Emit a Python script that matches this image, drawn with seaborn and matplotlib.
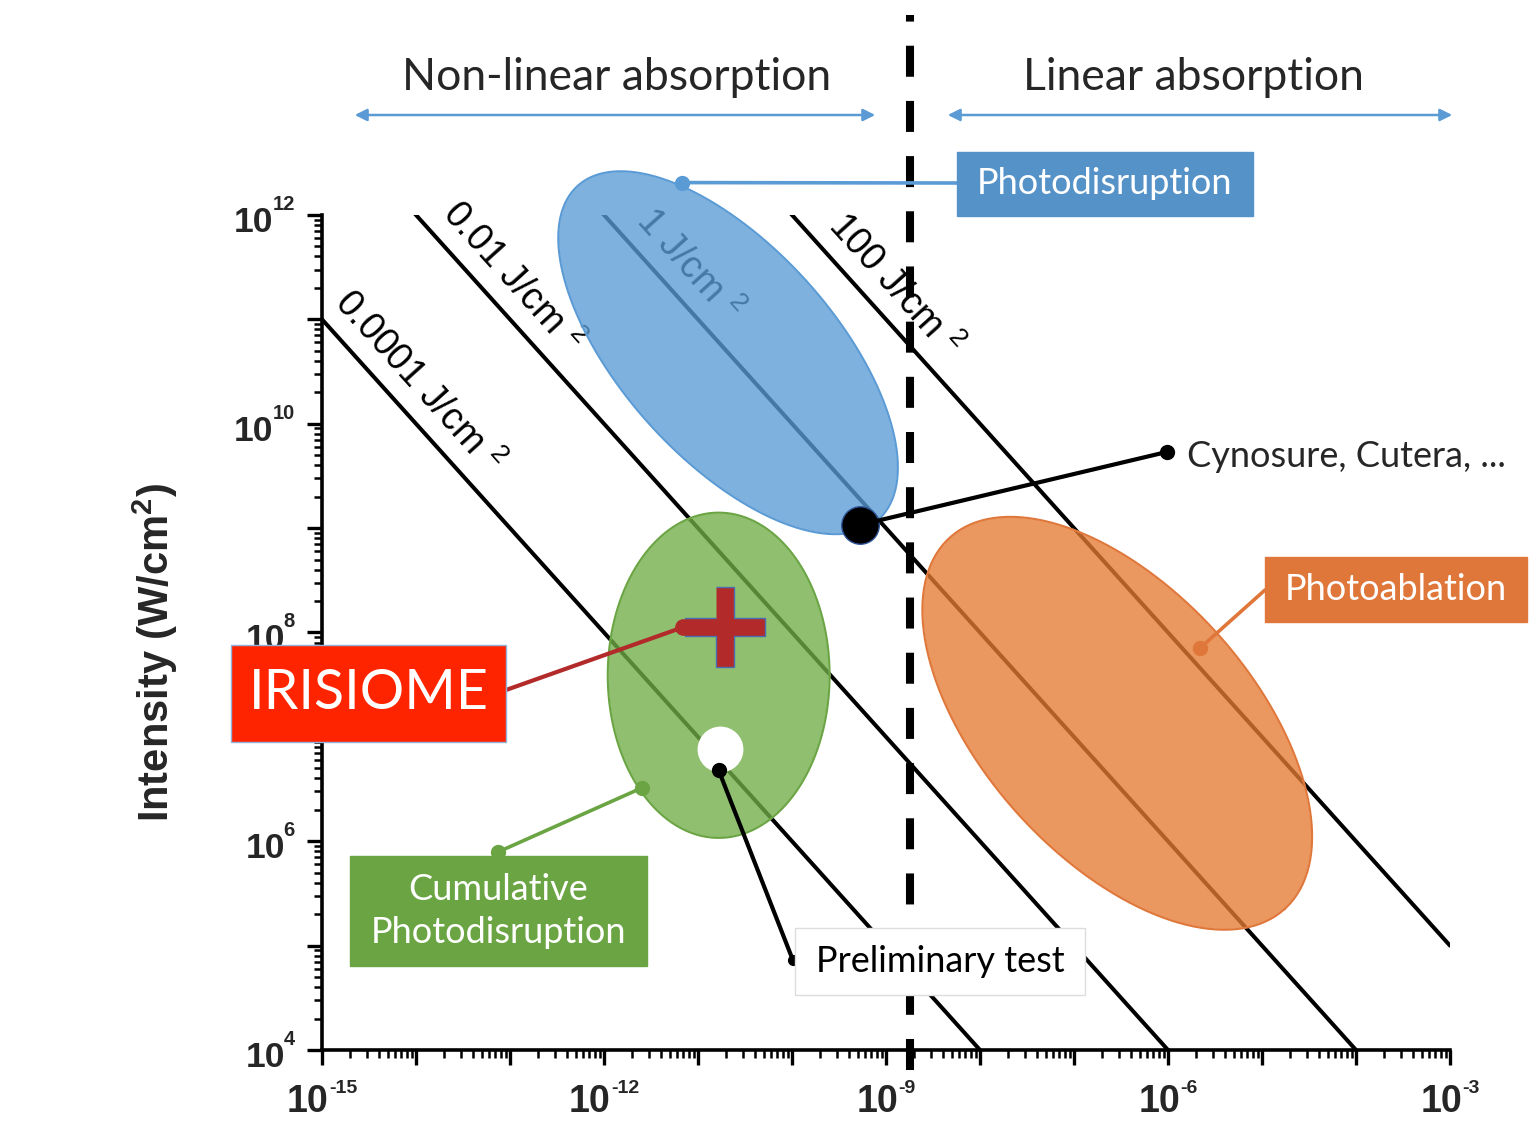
import numpy as np
import pandas as pd
import matplotlib.pyplot as plt
import seaborn as sns
from matplotlib.patches import Rectangle, ConnectionPatch, FancyArrowPatch
from matplotlib.lines import Line2D
from matplotlib.ticker import FixedLocator, LogLocator, NullFormatter

sns.set_theme(style="ticks")
plt.rcParams['font.family'] = ['Liberation Sans', 'DejaVu Sans']
plt.rcParams['mathtext.fontset'] = 'custom'
plt.rcParams['mathtext.rm'] = 'Liberation Sans'
plt.rcParams['mathtext.bf'] = 'Liberation Sans:bold'
plt.rcParams['mathtext.it'] = 'Liberation Sans:italic'
CAL = ['Lato', 'DejaVu Sans']

# fluence iso-lines (J/cm2), I = F / t
fluences = [1e-4, 1e-2, 1, 100]
fluence_labels = ['0.0001 J/cm $^{2}$', '0.01 J/cm $^{2}$', '1 J/cm $^{2}$', '100 J/cm $^{2}$']
label_at = [-14.21, -13.21, -11.33, -9.14]      # log10(t) where each label sits

# axis decades that carry a label
x_decades = [-15, -12, -9, -6, -3]
y_decades = [4, 6, 8, 10, 12]

# interaction regimes, log10 coords: centre, semi axes (decades), tilt (deg)
regimes = ['Photodisruption', 'Cumulative', 'Photoablation']
reg_t = [-10.68, -10.78, -6.54]
reg_i = [10.68, 7.59, 7.13]
reg_a = [2.39, 1.18, 2.66]
reg_b = [1.13, 1.73, 1.43]
reg_tilt = [48, 0, 48]
reg_fill = ['#5B9BD5', '#70AD47', '#E57A33']
reg_edge = ['#5B9BD5', '#6AA443', '#E0773A']

# single points (log10 t, log10 I)
irisiome = (-10.71, 8.05)
prelim = (-10.77, 6.88)
cynosure = (-9.28, 9.03)
t_limit = -8.745          # linear / non-linear boundary

# connector anchor points (log10 t, log10 I)
photodis_dot = (-11.17, 12.31)
ablation_dot = (-5.66, 7.85)
cumul_dot = (-11.60, 6.51)
iris_dot = (-11.16, 8.05)
cyn_end = (-6.01, 9.73)
prelim_start = (-10.78, 6.68)
prelim_end = (-9.99, 4.86)

fig = plt.figure(figsize=(15.31, 11.23), dpi=100)
ax = fig.add_axes([0.2103, 0.0650, 0.7368, 0.7436])
ax.set_xscale('log')
ax.set_yscale('log')
ax.set_xlim(1e-15, 1e-3)
ax.set_ylim(1e4, 1e12)

# pixels per decade ratio (y / x) -> keeps ellipses and text angles right
k = (0.7436 * 11.23 / 8) / (0.7368 * 15.31 / 12)
angle = np.degrees(np.arctan(k))

# fluence lines
t = np.logspace(-15, -3, 400)
df = pd.concat([pd.DataFrame({'t': t, 'I': F / t, 'F': F}) for F in fluences])
sns.lineplot(data=df, x='t', y='I', units='F', estimator=None, color='black',
             lw=2.9, ax=ax, zorder=2)

for F, lab, lt in zip(fluences, fluence_labels, label_at):
    ax.annotate(lab, xy=(10**lt, F / 10**lt), xytext=(15.5, 14),
                textcoords='offset points', rotation=-angle, rotation_mode='anchor',
                ha='center', va='center', fontsize=27, color='black', zorder=2)

# regime ellipses
s = np.linspace(0, 2 * np.pi, 300)
for ct, ci, a, b, tilt, fc, ec in zip(reg_t, reg_i, reg_a, reg_b, reg_tilt, reg_fill, reg_edge):
    th = np.radians(tilt)
    u = a * np.cos(s) * np.cos(th) - b * np.sin(s) * np.sin(th)
    v = a * np.cos(s) * np.sin(th) + b * np.sin(s) * np.cos(th)
    ax.fill(10**(ct + u), 10**(ci - v / k), facecolor=fc, alpha=0.78, zorder=3, clip_on=False)
    ax.plot(10**(ct + u), 10**(ci - v / k), color=ec, lw=1.5, zorder=3, clip_on=False)

# boundary
ax.axvline(10**t_limit, ymin=-0.024, ymax=1.24, color='black', lw=5.8,
           dashes=(3.85, 3.0), clip_on=False, zorder=6)

# axes styling
for side in ['top', 'right']:
    ax.spines[side].set_visible(False)
for side in ['left', 'bottom']:
    ax.spines[side].set_linewidth(2.6)
    ax.spines[side].set_color('black')

ax.xaxis.set_major_locator(FixedLocator(10.0**np.arange(-15, -2)))
ax.yaxis.set_major_locator(FixedLocator(10.0**np.arange(4, 13)))
for axis in [ax.xaxis, ax.yaxis]:
    axis.set_major_formatter(NullFormatter())
    axis.set_minor_locator(LogLocator(base=10, subs=np.arange(2, 10), numticks=100))
    axis.set_minor_formatter(NullFormatter())
ax.tick_params(which='major', direction='out', length=11, width=2.4, colors='black')
ax.tick_params(which='minor', direction='out', length=6, width=1.8, colors='black')
ax.set_xlabel('')
ax.set_ylabel('')
ax.set_facecolor('white')


# tick labels "10" + small raised exponent (sizes in px, converted to points)
def pt(p):
    return p * 72 / 100


for e in x_decades:
    sup = str(e)
    w10 = 1.112 * 27 * 100 / 72
    ws = (0.333 + 0.556 * (len(sup) - 1)) * 14 * 100 / 72
    left = -(w10 + ws) / 2
    ax.annotate('10', xy=(10.0**e, 0), xycoords=('data', 'axes fraction'),
                xytext=(pt(left + w10), pt(-62)), textcoords='offset points',
                ha='right', va='baseline', fontsize=27, fontweight='bold',
                annotation_clip=False)
    ax.annotate(sup, xy=(10.0**e, 0), xycoords=('data', 'axes fraction'),
                xytext=(pt(left + w10), pt(-43)), textcoords='offset points',
                ha='left', va='baseline', fontsize=14, fontweight='bold',
                annotation_clip=False)

for e in y_decades:
    sup = str(e)
    ws = 0.556 * len(sup) * 14.5 * 100 / 72
    ax.annotate(sup, xy=(0, 10.0**e), xycoords=('axes fraction', 'data'),
                xytext=(pt(-27), pt(5)), textcoords='offset points',
                ha='right', va='baseline', fontsize=14.5, fontweight='bold',
                annotation_clip=False)
    ax.annotate('10', xy=(0, 10.0**e), xycoords=('axes fraction', 'data'),
                xytext=(pt(-26 - ws), pt(-17)), textcoords='offset points',
                ha='right', va='baseline', fontsize=25.5, fontweight='bold',
                annotation_clip=False)

fig.text(155 / 1531, 1 - 652 / 1123, r'Intensity (W/cm$^{\mathbf{2}}$)', rotation=90,
         ha='center', va='center', fontsize=30, fontweight='bold')

# markers
ax.plot(10**irisiome[0], 10**irisiome[1], marker=[(-0.11, 0.5), (0.11, 0.5), (0.11, 0.11),
        (0.5, 0.11), (0.5, -0.11), (0.11, -0.11), (0.11, -0.5), (-0.11, -0.5),
        (-0.11, -0.11), (-0.5, -0.11), (-0.5, 0.11), (-0.11, 0.11)],
        ms=58, color='#B22A2A', mec='#4A6FB0', mew=1, zorder=7)
ax.plot(10**prelim[0], 10**prelim[1], 'o', ms=32, color='white', mec='white', zorder=7)
ax.plot(10**cynosure[0], 10**cynosure[1], 'o', ms=27, color='black', mec='#2F5597',
        mew=1, zorder=7)


# connectors
def dot(p, color, ms):
    ax.plot(10**p[0], 10**p[1], 'o', ms=ms, color=color, clip_on=False, zorder=8)


def connect(p, fxy, color, lw=2.6):
    con = ConnectionPatch(xyA=(10**p[0], 10**p[1]), coordsA='data', axesA=ax,
                          xyB=fxy, coordsB='figure fraction', color=color, lw=lw,
                          zorder=5, clip_on=False)
    con.set_annotation_clip(False)
    fig.add_artist(con)


connect(photodis_dot, (957 / 1531, 1 - 183 / 1123), '#5B9BD5')
dot(photodis_dot, '#5B9BD5', 10)
connect(ablation_dot, (1265 / 1531, 1 - 590 / 1123), '#E0773A')
dot(ablation_dot, '#E0773A', 10)
connect(cumul_dot, (498 / 1531, 1 - 852 / 1123), '#6AA443')
dot(cumul_dot, '#6AA443', 10)
fig.add_artist(Line2D([498 / 1531], [1 - 852 / 1123], marker='o', ms=10, color='#6AA443',
                      transform=fig.transFigure, zorder=8))
connect(iris_dot, (506 / 1531, 1 - 690 / 1123), '#B22A2A', lw=3)
dot(iris_dot, '#B22A2A', 11)
ax.plot([10**cynosure[0], 10**cyn_end[0]], [10**cynosure[1], 10**cyn_end[1]],
        color='black', lw=3, zorder=7)
dot(cyn_end, 'black', 10)
ax.plot([10**prelim_start[0], 10**prelim_end[0]], [10**prelim_start[1], 10**prelim_end[1]],
        color='black', lw=3, zorder=7)
dot(prelim_start, 'black', 10)
dot(prelim_end, 'black', 7)
ax.text(10**-5.80, 10**9.69, 'Cynosure, Cutera, ...', fontsize=26, family=CAL,
        va='center', ha='left', zorder=8)


# labelled boxes (figure fraction)
def box(x0, y0, x1, y1, text, fc, tc='white', ec=None, size=26):
    fig.add_artist(Rectangle((x0 / 1531, 1 - y1 / 1123), (x1 - x0) / 1531, (y1 - y0) / 1123,
                             transform=fig.transFigure, facecolor=fc,
                             edgecolor=ec if ec else fc, lw=1, zorder=10))
    fig.text((x0 + x1) / 2 / 1531, 1 - (y0 + y1) / 2 / 1123, text, ha='center', va='center',
             color=tc, fontsize=size, family=CAL, linespacing=1.4, zorder=11)


box(957, 152, 1253, 216, 'Photodisruption', '#5592C8')
box(1265, 557, 1527, 622, 'Photoablation', '#E0773A')
box(350, 856, 647, 966, 'Cumulative\nPhotodisruption', '#6AA443')
box(231, 645, 506, 742, 'IRISIOME', '#FF2400', ec='#8FB4DC', size=40)
box(795, 928, 1085, 995, 'Preliminary test', 'white', tc='black', ec='#DDDDDD')

# top regime headers
fig.text(617 / 1531, 1 - 78 / 1123, 'Non-linear absorption', ha='center', va='center',
         fontsize=32, family=CAL)
fig.text(1193 / 1531, 1 - 78 / 1123, 'Linear absorption', ha='center', va='center',
         fontsize=32, family=CAL)
for x0, x1 in [(352, 878), (945, 1455)]:
    fig.add_artist(FancyArrowPatch((x0 / 1531, 1 - 115 / 1123), (x1 / 1531, 1 - 115 / 1123),
                                   transform=fig.transFigure, arrowstyle='<|-|>',
                                   mutation_scale=18, color='#5B9BD5', lw=1.8))

fig.savefig('out.png', dpi=100, facecolor='white')
